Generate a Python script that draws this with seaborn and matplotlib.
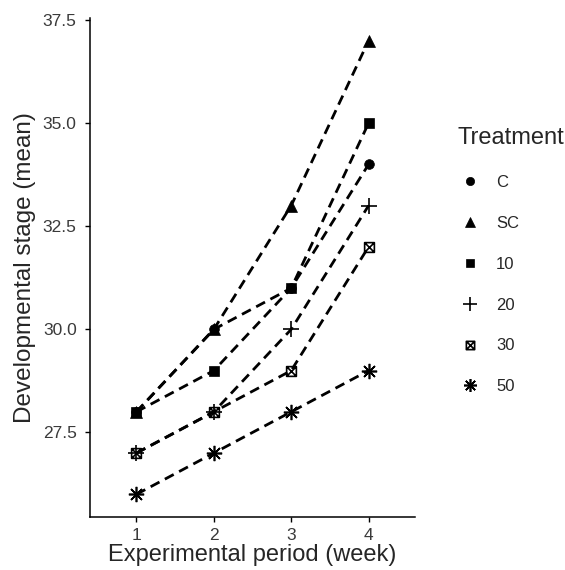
import numpy as np
import pandas as pd
import seaborn as sns
import matplotlib
matplotlib.use("Agg")
import matplotlib.pyplot as plt
from matplotlib.path import Path
from matplotlib.lines import Line2D

weeks = [1, 2, 3, 4]
treatments = ["C", "SC", "10", "20", "30", "50"]
vals_C = [28, 30, 31, 34]
vals_SC = [28, 30, 33, 37]
vals_10 = [28, 29, 31, 35]
vals_20 = [27, 28, 30, 33]
vals_30 = [27, 28, 29, 32]
vals_50 = [26, 27, 28, 29]
series = [vals_C, vals_SC, vals_10, vals_20, vals_30, vals_50]

df = pd.DataFrame({
    "week": np.tile(weeks, len(treatments)),
    "Treatment": np.repeat(treatments, len(weeks)),
    "value": np.concatenate(series),
})

sns.set_style("white")
plt.rcParams["font.family"] = ["Liberation Sans", "DejaVu Sans"]

# boxed-x marker
boxx = Path(
    [(-1, -1), (1, -1), (1, 1), (-1, 1), (-1, -1), (-1, -1), (1, 1), (-1, 1), (1, -1)],
    [Path.MOVETO, Path.LINETO, Path.LINETO, Path.LINETO, Path.CLOSEPOLY,
     Path.MOVETO, Path.LINETO, Path.MOVETO, Path.LINETO],
)

markers = {"C": "o", "SC": "^", "10": "s", "20": "+", "30": boxx, "50": (8, 2, 0)}
msizes = {"C": 7, "SC": 8, "10": 7, "20": 12, "30": 7, "50": 11}
filled = {"C": True, "SC": True, "10": True, "20": False, "30": False, "50": False}

fig = plt.figure(figsize=(5.65, 5.70), dpi=100)
ax = fig.add_axes([90 / 565, 1 - 517 / 570, (415 - 90) / 565, (517 - 18) / 570])

sns.lineplot(data=df, x="week", y="value", hue="Treatment", units="Treatment",
             estimator=None, palette=["black"] * 6, ax=ax, legend=False,
             linewidth=2.0, dashes=False)
for line in ax.get_lines():
    line.set_dashes((3.6, 2.2))

for t in treatments:
    sub = df[df["Treatment"] == t]
    ax.plot(sub["week"], sub["value"], linestyle="none", marker=markers[t],
            markersize=msizes[t], color="black",
            markerfacecolor="black" if filled[t] else "none",
            markeredgewidth=1.2 if not filled[t] else 0.5, zorder=5)

ax.set_xlim(0.4, 4.6)
ax.set_ylim(25.45, 37.55)
ax.set_xticks(weeks)
ax.set_yticks([27.5, 30.0, 32.5, 35.0, 37.5])
ax.set_yticklabels(["27.5", "30.0", "32.5", "35.0", "37.5"])
ax.tick_params(axis="both", labelsize=12.5, labelcolor="#3A3A3A", color="black",
               length=3.6, width=1, direction="out", left=True, bottom=True)
ax.tick_params(axis="y", pad=6)
ax.tick_params(axis="x", pad=4)
for s in ["top", "right"]:
    ax.spines[s].set_visible(False)
for s in ["left", "bottom"]:
    ax.spines[s].set_color("black")
    ax.spines[s].set_linewidth(1.1)
ax.set_xlabel("Experimental period (week)", fontsize=17, labelpad=1)
ax.set_ylabel("Developmental stage (mean)", fontsize=17.5, labelpad=5)
ax.grid(False)

handles = [Line2D([], [], linestyle="none", marker=markers[t], color="black",
                  markersize=msizes[t] * 0.85,
                  markerfacecolor="black" if filled[t] else "none",
                  markeredgewidth=1.2 if not filled[t] else 0.5)
           for t in treatments]
leg = fig.legend(handles, treatments, title="Treatment", loc="upper left",
                 bbox_to_anchor=(451 / 565, 1 - 120 / 570), frameon=False,
                 fontsize=12, title_fontsize=17, labelspacing=1.55,
                 handletextpad=0.8, handlelength=1.5, alignment="left",
                 borderaxespad=0)
leg._legend_box.sep = 19

fig.savefig("out.png", dpi=100)
